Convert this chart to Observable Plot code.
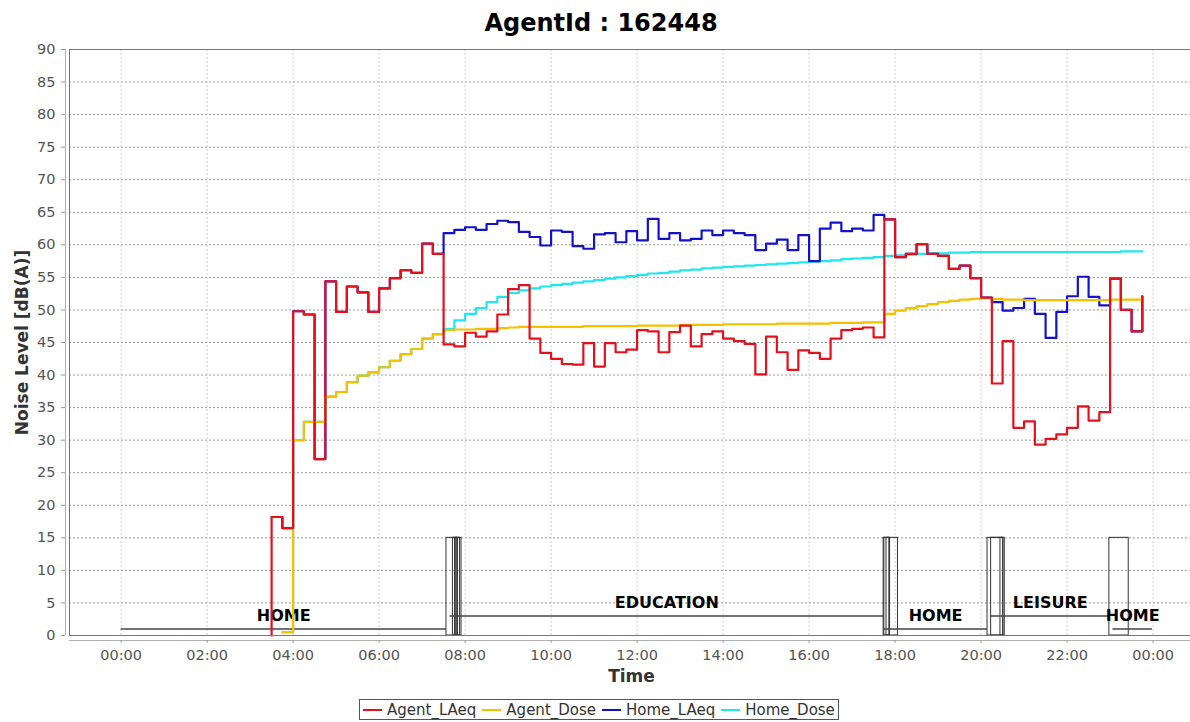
<!DOCTYPE html>
<html>
<head>
<meta charset="utf-8">
<script src="https://cdn.jsdelivr.net/npm/d3@7"></script>
<script src="https://cdn.jsdelivr.net/npm/@observablehq/plot@0.6"></script>
<style>
  html, body { margin: 0; padding: 0; background: #fff; }
  #wrap { position: relative; width: 1190px; height: 722px; overflow: hidden; font-family: "DejaVu Sans", sans-serif; }
  #chart { position: absolute; left: 0; top: 0; }
  #title { position: absolute; left: 0; top: 8px; width: 1202px; text-align: center; font-weight: bold; font-size: 24px; line-height: 30px; color: #000; }
  #legend { position: absolute; left: 359px; top: 699px; height: 21px; box-sizing: border-box; border: 1px solid #555; display: flex; align-items: center; padding: 0 3px 0 3px; font-size: 15px; color: #333; white-space: nowrap; }
  .item { display: flex; align-items: center; margin-right: 6px; }
  .item:last-child { margin-right: 0; }
  .sw { display: inline-block; width: 19px; height: 2px; margin-right: 5px; }
</style>
</head>
<body>
<div id="wrap">
  <div id="chart"></div>
  <div id="title">AgentId : 162448</div>
  <div id="legend"></div>
</div>
<script>
// ---------- data (15-minute steps) ----------
const times = [
  "03:30","03:45",
  "04:00","04:15","04:30","04:45",
  "05:00","05:15","05:30","05:45",
  "06:00","06:15","06:30","06:45",
  "07:00","07:15","07:30","07:45",
  "08:00","08:15","08:30","08:45",
  "09:00","09:15","09:30","09:45",
  "10:00","10:15","10:30","10:45",
  "11:00","11:15","11:30","11:45",
  "12:00","12:15","12:30","12:45",
  "13:00","13:15","13:30","13:45",
  "14:00","14:15","14:30","14:45",
  "15:00","15:15","15:30","15:45",
  "16:00","16:15","16:30","16:45",
  "17:00","17:15","17:30","17:45",
  "18:00","18:15","18:30","18:45",
  "19:00","19:15","19:30","19:45",
  "20:00","20:15","20:30","20:45",
  "21:00","21:15","21:30","21:45",
  "22:00","22:15","22:30","22:45",
  "23:00","23:15","23:30","23:45"
];

const agentLAeq = [
  18.2, 16.5,
  49.8, 49.3, 27.1, 54.4,
  49.7, 53.6, 52.7, 49.7,
  53.3, 54.9, 56.1, 55.7,
  60.2, 58.6, 44.7, 44.4,
  46.5, 45.9, 46.7, 49.3,
  53.2, 53.8, 45.6, 43.4,
  42.5, 41.7, 41.6, 44.9,
  41.3, 44.9, 43.5, 43.9,
  46.9, 46.7, 43.5, 46.6,
  47.6, 44.4, 46.3, 46.7,
  45.6, 45.2, 44.8, 40.1,
  45.9, 43.5, 40.8, 43.8,
  43.4, 42.5, 45.6, 46.9,
  47.1, 47.3, 45.8, 63.9,
  58.1, 58.6, 60.1, 58.6,
  58.3, 56.3, 56.8, 54.9,
  51.9, 38.7, 45.2, 31.9,
  32.9, 29.3, 30.2, 30.9,
  31.9, 35.2, 33.0, 34.3,
  54.8, 50.0, 46.7, 52.1
];
const agentLAeqRiseFrom = 0; // the red step line rises from the axis at its first time

const agentDose = [
  null, 0.5,
  30.0, 32.8, 32.8, 36.7,
  37.4, 38.9, 39.9, 40.4,
  41.2, 42.2, 43.2, 44.0,
  45.6, 46.3, 46.9, 47.0,
  47.0, 47.1, 47.1, 47.2,
  47.3, 47.4, 47.4, 47.4,
  47.4, 47.4, 47.4, 47.5,
  47.5, 47.5, 47.5, 47.5,
  47.6, 47.6, 47.6, 47.6,
  47.7, 47.7, 47.7, 47.7,
  47.8, 47.8, 47.8, 47.8,
  47.8, 47.9, 47.9, 47.9,
  47.9, 47.9, 48.0, 48.0,
  48.0, 48.1, 48.1, 49.4,
  49.9, 50.3, 50.6, 50.9,
  51.2, 51.4, 51.6, 51.7,
  51.8, 51.7, 51.6, 51.6,
  51.5, 51.5, 51.5, 51.5,
  51.5, 51.5, 51.5, 51.5,
  51.6, 51.6, 51.6, 51.7
];

const homeLAeq = [
  18.2, 16.5,
  49.8, 49.3, 27.1, 54.4,
  49.7, 53.6, 52.7, 49.7,
  53.3, 54.9, 56.1, 55.7,
  60.2, 58.6, 61.8, 62.3,
  62.7, 62.3, 63.2, 63.7,
  63.5, 62.0, 61.2, 59.9,
  62.2, 62.0, 59.8, 59.4,
  61.6, 61.8, 60.4, 62.1,
  60.7, 64.0, 60.9, 61.8,
  60.7, 60.9, 62.2, 61.5,
  62.2, 61.8, 61.5, 59.2,
  60.2, 60.8, 59.2, 61.5,
  57.5, 62.5, 63.4, 62.1,
  62.5, 62.2, 64.6, 63.9,
  58.1, 58.6, 60.1, 58.6,
  58.3, 56.3, 56.8, 54.9,
  51.9, 51.2, 49.9, 50.3,
  51.7, 49.4, 45.7, 49.7,
  52.1, 55.1, 52.0, 50.7,
  54.8, 50.0, 46.7, 52.1
];

const homeDose = [
  null, 0.5,
  30.0, 32.8, 32.8, 36.7,
  37.4, 38.9, 39.9, 40.4,
  41.2, 42.2, 43.2, 44.0,
  45.6, 46.3, 47.1, 48.4,
  49.4, 50.3, 51.2, 52.0,
  52.6, 53.0, 53.3, 53.6,
  53.8, 54.0, 54.2, 54.4,
  54.6, 54.8, 55.0, 55.2,
  55.4, 55.6, 55.7, 55.9,
  56.1, 56.2, 56.4, 56.5,
  56.6, 56.7, 56.8, 56.9,
  57.0, 57.1, 57.2, 57.3,
  57.4, 57.5, 57.6, 57.8,
  57.9, 58.0, 58.1, 58.3,
  58.4, 58.5, 58.6, 58.7,
  58.7, 58.8, 58.8, 58.9,
  58.9, 58.9, 58.9, 58.9,
  58.9, 58.9, 58.9, 58.9,
  58.9, 58.9, 58.9, 58.9,
  58.9, 59.0, 59.0, 59.0
];

const seriesNames = ["Agent_LAeq", "Agent_Dose", "Home_LAeq", "Home_Dose"];
const seriesColors = ["#e5101c", "#f4c000", "#1212cc", "#1fe6f0"];

// activity diary
const activityNames  = ["HOME", "EDUCATION", "HOME", "LEISURE", "HOME"];
const activityStarts = ["00:00", "07:39", "17:44", "20:14", "23:04"];
const activityEnds   = ["07:34", "17:44", "20:09", "22:59", "23:59"];
const activityLevels = [1, 3, 1, 3, 1];
const activityLabelLift = 2;

// trips between activities (outlined boxes)
const tripStarts = ["07:34","07:43","07:46","07:47","17:44","17:48","17:45","20:09","20:14","20:27","22:59"];
const tripEnds   = ["07:55","07:53","07:50","07:49","18:04","17:53","17:52","20:33","20:31","20:31","23:26"];
const tripHeight = 15;

// axes
const xDomain = [-1.2, 24.87];
const yDomain = [0, 90];
const xTickHours  = [0, 2, 4, 6, 8, 10, 12, 14, 16, 18, 20, 22, 24];
const xTickLabels = ["00:00","02:00","04:00","06:00","08:00","10:00","12:00","14:00","16:00","18:00","20:00","22:00","00:00"];
const yTicks = [0,5,10,15,20,25,30,35,40,45,50,55,60,65,70,75,80,85,90];
const xLabel = "Time";
const yLabel = "Noise Level [dB(A)]";

// ---------- build ----------
const toHours = s => { const [h, m] = s.split(":").map(Number); return h + m / 60; };
const build = vals => times.map((t, i) => ({t: toHours(t), v: vals[i]}));

const redRows = [{t: toHours(times[0]), v: agentLAeqRiseFrom}, ...build(agentLAeq)];
const yellowRows = build(agentDose);
const blueRows = build(homeLAeq);
const cyanRows = build(homeDose);

const activities = activityNames.map((n, i) => ({
  name: n, start: toHours(activityStarts[i]), end: toHours(activityEnds[i]), level: activityLevels[i]
}));
const trips = tripStarts.map((s, i) => ({start: toHours(s), end: toHours(tripEnds[i]), top: tripHeight}));

const font = "DejaVu Sans";
const lineOpts = (color) => ({x: "t", y: "v", curve: "step-after", stroke: color, strokeWidth: 2.2});

const chart = Plot.plot({
  width: 1190,
  height: 690,
  marginTop: 49,
  marginBottom: 55,
  marginLeft: 69,
  marginRight: 0,
  style: {fontFamily: font, fontSize: "14.5px", background: "transparent", color: "#555"},
  x: {domain: xDomain, label: null},
  y: {domain: yDomain, label: null},
  marks: [
    Plot.gridY(yTicks, {stroke: "#9a9a9a", strokeOpacity: 1, strokeDasharray: "2,2"}),
    Plot.gridX(xTickHours, {stroke: "#cfcfcf", strokeOpacity: 1, strokeDasharray: "2,2"}),
    Plot.ruleY([yDomain[0]], {dy: 5, stroke: "#b0b0b0"}),
    Plot.ruleX([xDomain[0]], {dx: -4, stroke: "#b0b0b0"}),
    Plot.axisX(xTickHours, {
      dy: 5, tickSize: 3, tickPadding: 6, stroke: "#999", fill: "#555",
      fontSize: 14.5, label: null,
      tickFormat: d => xTickLabels[xTickHours.indexOf(d)]
    }),
    Plot.axisY(yTicks, {
      dx: -4, tickSize: 4, tickPadding: 6, stroke: "#999", fill: "#555",
      fontSize: 14.5, label: null
    }),
    Plot.text([yLabel], {
      frameAnchor: "left", dx: -47, rotate: -90, textAnchor: "middle", lineAnchor: "middle",
      fontSize: 17, fontWeight: "bold", fill: "#333", fontFamily: font
    }),
    Plot.text([xLabel], {
      frameAnchor: "bottom", dy: 41, dx: 1.5, textAnchor: "middle", lineAnchor: "middle",
      fontSize: 17, fontWeight: "bold", fill: "#333", fontFamily: font
    }),
    // activity diary
    Plot.rect(trips, {x1: "start", x2: "end", y1: 0, y2: "top", fill: "none", stroke: "#333", strokeWidth: 1}),
    Plot.ruleY(activities, {y: "level", x1: "start", x2: "end", stroke: "#444", strokeWidth: 1.5}),
    Plot.text(activities, {
      x: d => (d.start + d.end) / 2, y: d => d.level + activityLabelLift, text: "name",
      fontSize: 16, fontWeight: "bold", fill: "#000", fontFamily: font, lineAnchor: "middle"
    }),
    // series (last listed is drawn on top)
    Plot.line(cyanRows, lineOpts(seriesColors[3])),
    Plot.line(blueRows, lineOpts(seriesColors[2])),
    Plot.line(yellowRows, lineOpts(seriesColors[1])),
    Plot.line(redRows, lineOpts(seriesColors[0])),
    Plot.frame({stroke: "#777", strokeWidth: 1})
  ]
});
document.getElementById("chart").appendChild(chart);

// legend
const legend = document.getElementById("legend");
seriesNames.forEach((n, i) => {
  const item = document.createElement("div");
  item.className = "item";
  const sw = document.createElement("span");
  sw.className = "sw";
  sw.style.background = seriesColors[i];
  const tx = document.createElement("span");
  tx.textContent = n;
  item.appendChild(sw);
  item.appendChild(tx);
  legend.appendChild(item);
});
</script>
</body>
</html>
